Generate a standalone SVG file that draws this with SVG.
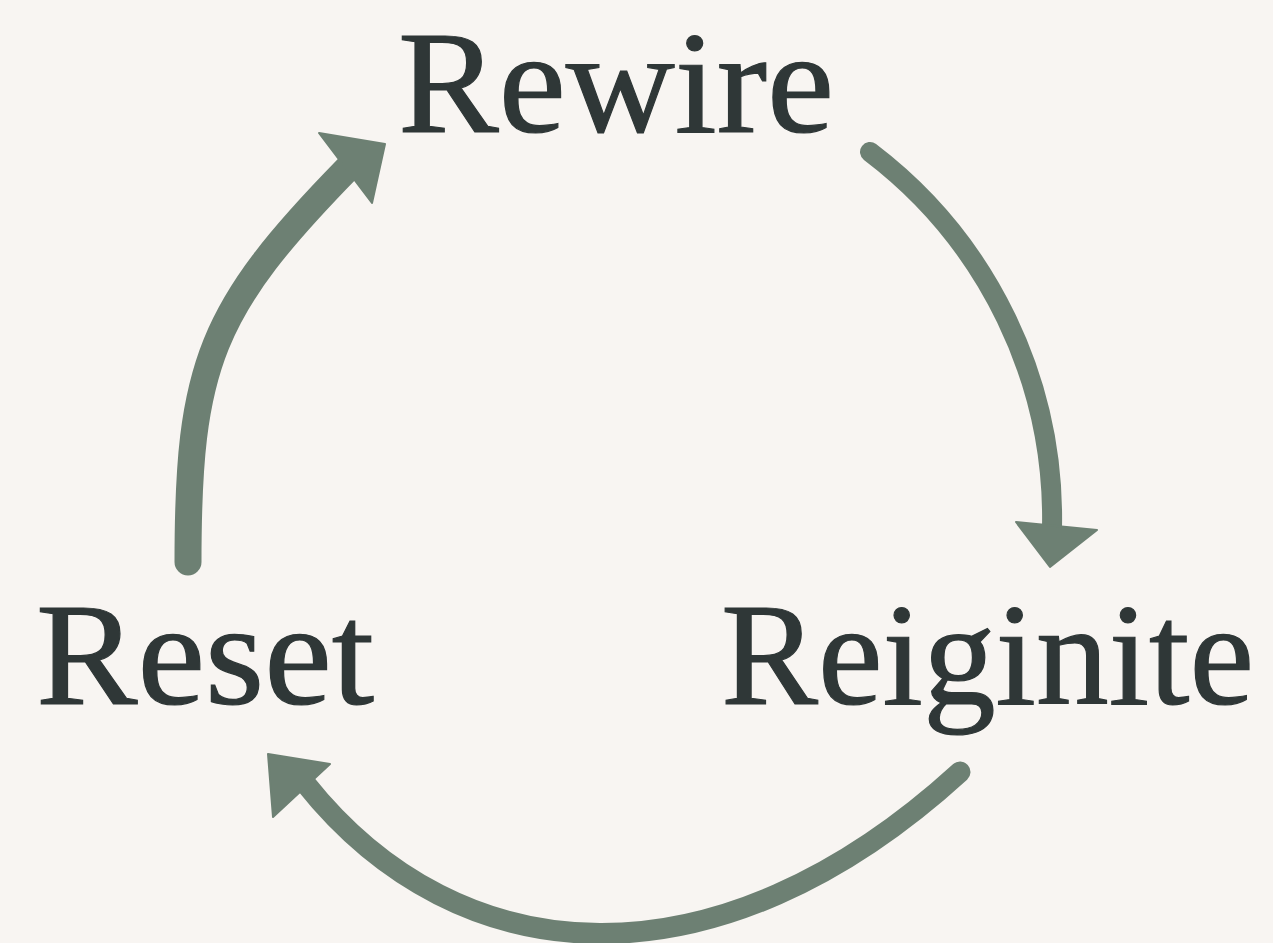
<svg xmlns="http://www.w3.org/2000/svg" width="1273" height="943" viewBox="0 0 1273 943">
<style>
.lbl{font-family:"Liberation Serif","Times New Roman",serif;font-size:147px;fill:#2f3737;stroke:#2f3737;stroke-width:1.2px;}
.arc{fill:none;stroke:#6d8073;stroke-linecap:round;}
.head{fill:#6d8073;stroke:#6d8073;stroke-width:2;stroke-linejoin:round;}
</style>
<rect width="1273" height="943" fill="#f8f5f2"/>
<g id="connectors">
<path class="arc" d="M188 562 C188 365 210 309 348 168" stroke-width="27"/>
<polygon class="head" points="319,133 385,144 372,203"/>
<path class="arc" d="M870 152 A460 460 0 0 1 1052 528" stroke-width="20"/>
<polygon class="head" points="1016,522 1097,530 1050,567"/>
<path class="arc" d="M960 772 C718 993 460 978 305 783" stroke-width="21"/>
<polygon class="head" points="268,754 330,764 273,817"/>
</g>
<g id="node-rewire"><text class="lbl" x="398" y="132" textLength="436" lengthAdjust="spacingAndGlyphs">Rewire</text></g>
<g id="node-reset"><text class="lbl" x="36" y="704" textLength="338" lengthAdjust="spacingAndGlyphs">Reset</text></g>
<g id="node-reignite"><text class="lbl" x="721" y="704" textLength="533" lengthAdjust="spacingAndGlyphs">Reiginite</text></g>
</svg>
